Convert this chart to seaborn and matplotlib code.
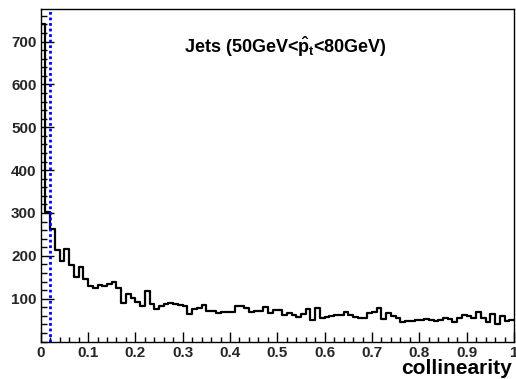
import numpy as np
import pandas as pd
import matplotlib
matplotlib.use("Agg")
import matplotlib.pyplot as plt
import seaborn as sns
from matplotlib.ticker import MultipleLocator

# ---- data ----
x_min, x_max, n_bins = 0.0, 1.0, 100
counts = [
    740, 302, 263, 213, 189, 216, 178, 151, 175, 147,
    129, 124, 131, 129, 135, 139, 126, 91, 112, 101,
    92, 82, 118, 88, 75, 84, 87, 89, 88, 86,
    84, 65, 77, 78, 86, 72, 71, 67, 68, 70,
    68, 84, 83, 79, 70, 71, 71, 80, 66, 74,
    73, 63, 66, 61, 58, 64, 76, 50, 79, 55,
    57, 59, 61, 61, 68, 62, 57, 54, 56, 67,
    68, 78, 52, 67, 59, 54, 45, 49, 49, 51,
    51, 52, 50, 49, 50, 54, 52, 45, 54, 63,
    59, 54, 68, 55, 46, 65, 42, 60, 47, 51,
]
cut_value = 0.02
x_tick_values = [0, 0.1, 0.2, 0.3, 0.4, 0.5, 0.6, 0.7, 0.8, 0.9, 1.0]
x_tick_labels = ["0", "0.1", "0.2", "0.3", "0.4", "0.5", "0.6", "0.7", "0.8", "0.9", "1"]
y_tick_values = [100, 200, 300, 400, 500, 600, 700]
title_text = r"Jets (50GeV<$\mathbf{\hat{p}}_{\mathbf{t}}$<80GeV)"
x_label = "collinearity"

# ---- style ----
sns.set_theme(style="white")
plt.rcParams["font.family"] = ["Liberation Sans", "DejaVu Sans"]
plt.rcParams["font.weight"] = "bold"
plt.rcParams["mathtext.fontset"] = "custom"
plt.rcParams["mathtext.rm"] = "Liberation Sans:bold"
plt.rcParams["mathtext.bf"] = "Liberation Sans:bold"
plt.rcParams["mathtext.it"] = "Liberation Sans:bold"

fig = plt.figure(figsize=(5.16, 3.79), dpi=100)
ax = fig.add_axes([0.0789, 0.0989, 0.9961 - 0.0789, 0.9763 - 0.0989])

edges = np.linspace(x_min, x_max, n_bins + 1)
centers = (edges[:-1] + edges[1:]) / 2
df = pd.DataFrame({"collinearity": centers, "count": np.asarray(counts, dtype=float)})

sns.histplot(data=df, x="collinearity", weights="count", bins=n_bins,
             binrange=(x_min, x_max),
             element="step", fill=False, color="black", linewidth=1.6, ax=ax)

ax.axvline(cut_value, color="#0000ff", linestyle=(0, (1, 1)), linewidth=2.0)

ax.set_xlim(x_min, x_max)
ax.set_ylim(0, 776)

ax.set_xticks(x_tick_values)
ax.set_xticklabels(x_tick_labels)
ax.set_yticks(y_tick_values)
ax.set_yticklabels([str(v) for v in y_tick_values])
ax.xaxis.set_minor_locator(MultipleLocator(0.02))
ax.yaxis.set_minor_locator(MultipleLocator(20))

ax.xaxis.set_tick_params(which="major", direction="in", length=7.2, width=1.0,
                         color="black", labelsize=11, pad=3.0)
ax.xaxis.set_tick_params(which="minor", direction="in", length=3.6, width=1.0,
                         color="black")
ax.yaxis.set_tick_params(which="major", direction="in", length=9.4, width=1.0,
                         color="black", labelsize=11, pad=3.0)
ax.yaxis.set_tick_params(which="minor", direction="in", length=4.5, width=1.0,
                         color="black")
ax.tick_params(bottom=True, left=True, top=False, right=False, which="both")
for lab in ax.get_xticklabels() + ax.get_yticklabels():
    lab.set_fontweight("bold")

for s in ax.spines.values():
    s.set_color("black")
    s.set_linewidth(1.0)

ax.set_xlabel("")
ax.set_ylabel("")

ax.text(0.518, 674, title_text, ha="center", va="baseline",
        fontsize=13, fontweight="bold", color="black")

fig.text(0.992, 1 - 374 / 379, x_label, ha="right", va="baseline",
         fontsize=15, fontweight="bold", color="black")

fig.savefig("out.png", dpi=100, facecolor="white")
